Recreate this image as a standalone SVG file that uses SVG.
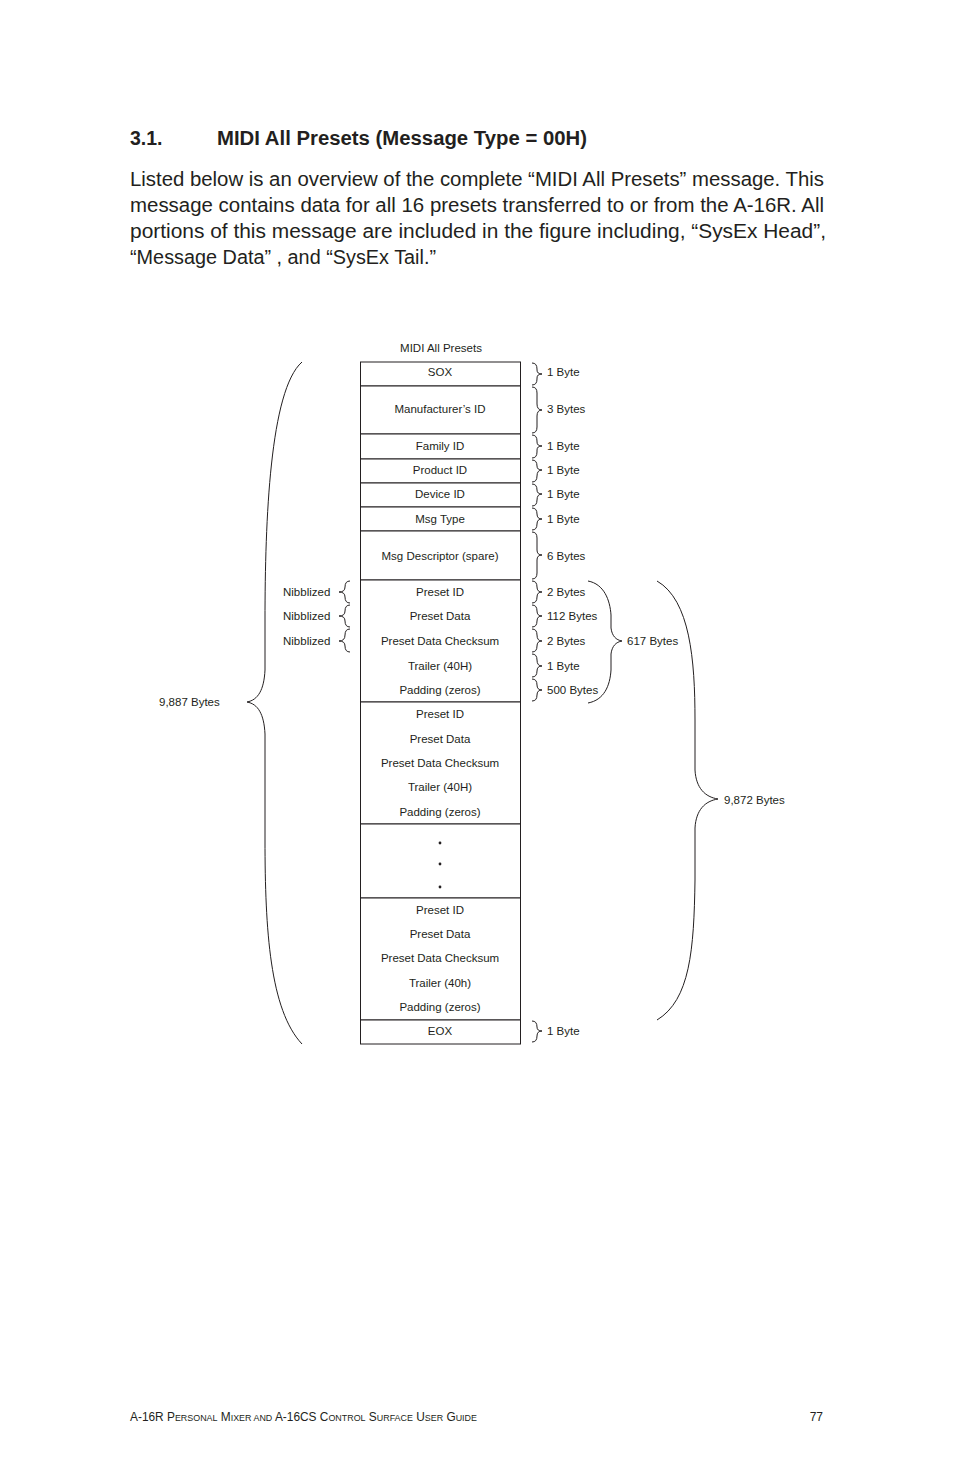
<svg xmlns="http://www.w3.org/2000/svg" width="954" height="1475" viewBox="0 0 954 1475">
<style>
text{font-family:"Liberation Sans",Arial,sans-serif;fill:#231f20}
.d{font-size:11.5px}
.c{text-anchor:middle}
.b{fill:none;stroke:#231f20;stroke-width:1}
.r{fill:#fff;stroke:#231f20;stroke-width:1}
.p{font-size:19.5px}
</style>
<rect width="954" height="1475" fill="#fff"/>
<text x="130" y="145" font-size="19.5" font-weight="bold">3.1.</text>
<text x="217" y="145" font-size="19.5" font-weight="bold" textLength="370" lengthAdjust="spacingAndGlyphs">MIDI All Presets (Message Type = 00H)</text>
<text class="p" x="130" y="186" textLength="694" lengthAdjust="spacingAndGlyphs">Listed below is an overview of the complete “MIDI All Presets” message.  This</text>
<text class="p" x="130" y="212" textLength="694" lengthAdjust="spacingAndGlyphs">message contains data for all 16 presets transferred to or from the A-16R.  All</text>
<text class="p" x="130" y="238" textLength="696" lengthAdjust="spacingAndGlyphs">portions of this message are included in the figure including, “SysEx Head”,</text>
<text class="p" x="130" y="264" textLength="306" lengthAdjust="spacingAndGlyphs">“Message Data” , and “SysEx Tail.”</text>

<text class="d c" x="441" y="352">MIDI All Presets</text>
<g id="sox"><rect class="r" x="360.5" y="362" width="160" height="24"/><text class="d c" x="440" y="376">SOX</text></g>
<g id="manu"><rect class="r" x="360.5" y="386" width="160" height="48"/><text class="d c" x="440" y="413">Manufacturer’s ID</text></g>
<g id="family"><rect class="r" x="360.5" y="434" width="160" height="25"/><text class="d c" x="440" y="450">Family ID</text></g>
<g id="product"><rect class="r" x="360.5" y="459" width="160" height="24"/><text class="d c" x="440" y="474">Product ID</text></g>
<g id="device"><rect class="r" x="360.5" y="483" width="160" height="24"/><text class="d c" x="440" y="498">Device ID</text></g>
<g id="msgtype"><rect class="r" x="360.5" y="507" width="160" height="24"/><text class="d c" x="440" y="523">Msg Type</text></g>
<g id="desc"><rect class="r" x="360.5" y="531" width="160" height="49"/><text class="d c" x="440" y="560">Msg Descriptor (spare)</text></g>
<g id="preset1"><rect class="r" x="360.5" y="580" width="160" height="122"/>
<text class="d c" x="440" y="596">Preset ID</text><text class="d c" x="440" y="620">Preset Data</text><text class="d c" x="440" y="645">Preset Data Checksum</text><text class="d c" x="440" y="670">Trailer (40H)</text><text class="d c" x="440" y="694">Padding (zeros)</text></g>
<g id="preset2"><rect class="r" x="360.5" y="702" width="160" height="122"/>
<text class="d c" x="440" y="718">Preset ID</text><text class="d c" x="440" y="743">Preset Data</text><text class="d c" x="440" y="767">Preset Data Checksum</text><text class="d c" x="440" y="791">Trailer (40H)</text><text class="d c" x="440" y="816">Padding (zeros)</text></g>
<g id="dots"><rect class="r" x="360.5" y="824" width="160" height="74"/>
<circle cx="440" cy="843" r="1.4" fill="#231f20"/><circle cx="440" cy="864" r="1.4" fill="#231f20"/><circle cx="440" cy="887" r="1.4" fill="#231f20"/></g>
<g id="preset16"><rect class="r" x="360.5" y="898" width="160" height="122"/>
<text class="d c" x="440" y="914">Preset ID</text><text class="d c" x="440" y="938">Preset Data</text><text class="d c" x="440" y="962">Preset Data Checksum</text><text class="d c" x="440" y="987">Trailer (40h)</text><text class="d c" x="440" y="1011">Padding (zeros)</text></g>
<g id="eox"><rect class="r" x="360.5" y="1020" width="160" height="24"/><text class="d c" x="440" y="1035">EOX</text></g>

<g id="braces">
<path class="b" d="M532,363 Q537,363 537,369 L537,370 Q537,374 542,374 Q537,374 537,378 L537,379 Q537,385 532,385"/>
<path class="b" d="M532,387 Q537,387 537,393 L537,404 Q537,410 542,410 Q537,410 537,416 L537,427 Q537,433 532,433"/>
<path class="b" d="M532,435 Q537,435 537,441 L537,442 Q537,446 542,446 Q537,446 537,450 L537,452 Q537,458 532,458"/>
<path class="b" d="M532,460 Q537,460 537,466 Q537,470 542,470 Q537,470 537,476 Q537,482 532,482"/>
<path class="b" d="M532,484 Q537,484 537,490 Q537,494 542,494 Q537,494 537,500 Q537,506 532,506"/>
<path class="b" d="M532,508 Q537,508 537,514 Q537,519 542,519 Q537,519 537,524 Q537,530 532,530"/>
<path class="b" d="M532,532 Q537,532 537,538 L537,550 Q537,555 542,555 Q537,555 537,560 L537,573 Q537,579 532,579"/>
<path class="b" d="M532,581 Q537,581 537,587 Q537,592 542,592 Q537,592 537,597 Q537,603 532,603"/>
<path class="b" d="M532,605 Q537,605 537,611 Q537,616 542,616 Q537,616 537,621 Q537,627 532,627"/>
<path class="b" d="M532,629 Q537,629 537,635 Q537,641 542,641 Q537,641 537,646 Q537,652 532,652"/>
<path class="b" d="M532,654 Q537,654 537,660 Q537,666 542,666 Q537,666 537,671 Q537,677 532,677"/>
<path class="b" d="M532,679 Q537,679 537,685 Q537,690 542,690 Q537,690 537,695 Q537,701 532,701"/>
<path class="b" d="M532,1021 Q537,1021 537,1027 Q537,1031 542,1031 Q537,1031 537,1036 Q537,1042 532,1042"/>
<path class="b" d="M350,581 Q345,581 345,587 Q345,592 339,592 Q345,592 345,597 Q345,603 350,603"/>
<path class="b" d="M350,605 Q345,605 345,611 Q345,616 339,616 Q345,616 345,621 Q345,627 350,627"/>
<path class="b" d="M350,629 Q345,629 345,635 Q345,641 339,641 Q345,641 345,646 Q345,652 350,652"/>
<path class="b" d="M588,581 C604,584 610,600 611,615 L611,628 C612,636 616,640 622,641 C616,642 612,646 611,654 L611,670 C610,686 604,700 588,703"/>
<path class="b" d="M657,581 C690,600 695,660 695,720 L695,770 C696,788 705,797 718,799 C705,801 696,810 695,828 L695,880 C694,950 690,1000 657,1020"/>
<path class="b" d="M302,362 C270,390 265,520 265,620 L265,670 C264,690 258,700 247,702 C258,704 264,714 265,734 L265,840 C265,930 270,1010 302,1044"/>
</g>
<g id="labels">
<text class="d" x="547" y="376">1 Byte</text>
<text class="d" x="547" y="413">3 Bytes</text>
<text class="d" x="547" y="450">1 Byte</text>
<text class="d" x="547" y="474">1 Byte</text>
<text class="d" x="547" y="498">1 Byte</text>
<text class="d" x="547" y="523">1 Byte</text>
<text class="d" x="547" y="560">6 Bytes</text>
<text class="d" x="547" y="596">2 Bytes</text>
<text class="d" x="547" y="620">112 Bytes</text>
<text class="d" x="547" y="645">2 Bytes</text>
<text class="d" x="547" y="670">1 Byte</text>
<text class="d" x="547" y="694">500 Bytes</text>
<text class="d" x="547" y="1035">1 Byte</text>
<text class="d" x="627" y="645">617 Bytes</text>
<text class="d" x="724" y="804">9,872 Bytes</text>
<text class="d" x="159" y="706">9,887 Bytes</text>
<text class="d" x="283" y="596">Nibblized</text>
<text class="d" x="283" y="620">Nibblized</text>
<text class="d" x="283" y="645">Nibblized</text>
</g>
<text x="130" y="1421" font-size="12" textLength="347" lengthAdjust="spacingAndGlyphs">A-16R P<tspan font-size="9">ERSONAL</tspan> M<tspan font-size="9">IXER AND</tspan> A-16CS C<tspan font-size="9">ONTROL</tspan> S<tspan font-size="9">URFACE</tspan> U<tspan font-size="9">SER</tspan> G<tspan font-size="9">UIDE</tspan></text>
<text x="823" y="1421" font-size="12" text-anchor="end">77</text>
</svg>
